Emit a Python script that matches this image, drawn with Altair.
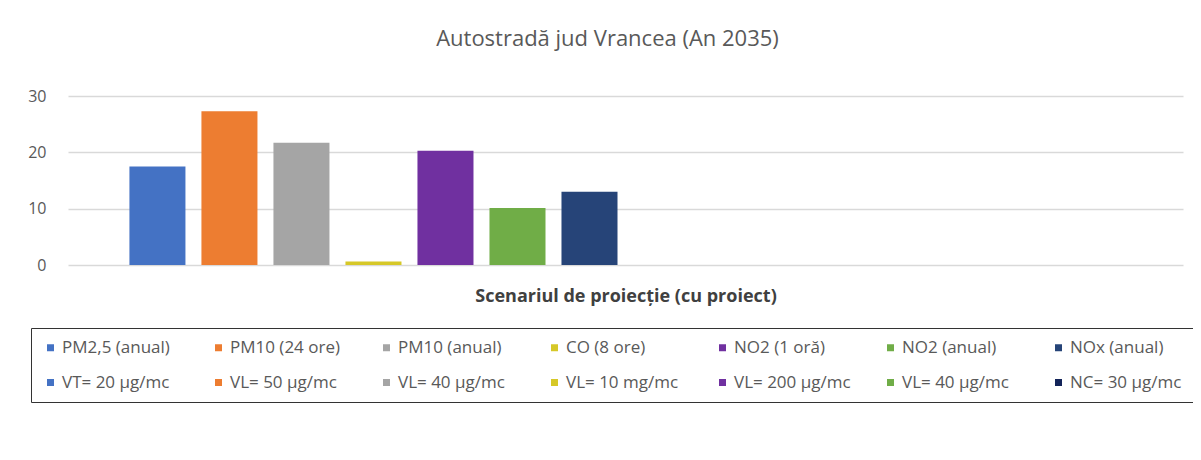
import altair as alt
import pandas as pd

series = ["PM2,5 (anual)", "PM10 (24 ore)", "PM10 (anual)", "CO (8 ore)",
          "NO2 (1 oră)", "NO2 (anual)", "NOx (anual)",
          "VT= 20 µg/mc", "VL= 50 µg/mc", "VL= 40 µg/mc", "VL= 10 mg/mc",
          "VL= 200 µg/mc", "VL= 40 µg/mc\u200b", "NC= 30 µg/mc"]
values = [17.5, 27.3, 21.7, 0.6, 20.3, 10.1, 13.0, 0, 0, 0, 0, 0, 0, 0]
colors = ["#4472C4", "#ED7D31", "#A5A5A5", "#D6C828", "#7030A0", "#70AD47", "#264478",
          "#4472C4", "#ED7D31", "#A5A5A5", "#D6C828", "#7030A0", "#70AD47", "#132459"]
category = "Scenariul de proiecție (cu proiect)"

df = pd.DataFrame({"cat": [""] * len(series), "serie": series, "val": values})

FONT = "Open Sans"

chart = alt.Chart(df).mark_bar().encode(
    x=alt.X("cat:N", title=category,
            scale=alt.Scale(paddingInner=0, paddingOuter=0.053),
            axis=alt.Axis(labels=False, ticks=False, domain=False,
                          titleFont=FONT, titleFontSize=18, titleFontWeight="bold",
                          titleColor="#404040", titlePadding=22)),
    xOffset=alt.XOffset("serie:N", sort=series,
                        scale=alt.Scale(domain=series, paddingInner=0.222, paddingOuter=0.111)),
    y=alt.Y("val:Q", title=None,
            scale=alt.Scale(domain=[0, 30], nice=False),
            axis=alt.Axis(values=[0, 10, 20, 30], domain=False, ticks=False,
                          labelPadding=22, labelFont=FONT, labelFontSize=16,
                          labelColor="#595959", gridColor="#d9d9d9", gridWidth=1.5)),
    color=alt.Color("serie:N", sort=series,
                    scale=alt.Scale(domain=series, range=colors),
                    legend=alt.Legend(title=None, orient="none", legendX=-37, legendY=232,
                                      direction="horizontal", columns=7, gridAlign="all",
                                      symbolType="square", symbolSize=49, symbolStrokeWidth=0,
                                      symbolOffset=0, labelOffset=3,
                                      labelFont=FONT, labelFontSize=17, labelColor="#595959",
                                      columnPadding=31, rowPadding=17,
                                      padding=11, strokeColor="#333333",
                                      labelLimit=300)),
).properties(
    width=1115, height=169,
    title=alt.TitleParams("Autostradă jud Vrancea (An 2035)", font=FONT, fontSize=22,
                          fontWeight="normal", color="#595959", offset=37, dx=-18),
    autosize=alt.AutoSizeParams(type="none"),
    padding={"left": 60, "top": 88, "right": 10, "bottom": 187},
).configure_view(stroke=None)

chart.save("out.html", embed_options={"renderer": "svg", "actions": False})
